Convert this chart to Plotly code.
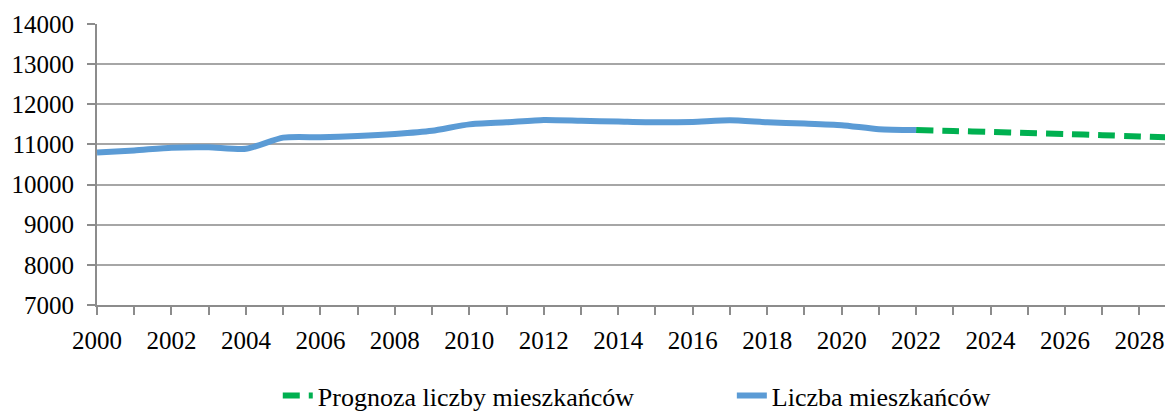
import plotly.graph_objects as go

years_hist = list(range(2000, 2023))
pop_hist = [10800, 10850, 10920, 10930, 10890, 11170, 11180, 11210, 11260, 11340,
            11500, 11550, 11610, 11590, 11570, 11550, 11560, 11600, 11550, 11520,
            11480, 11380, 11360]

years_fc = list(range(2022, 2031))
pop_fc = [11360, 11335, 11310, 11285, 11260, 11230, 11200, 11170, 11140]

FAM = "Times New Roman, Liberation Serif, Tinos, DejaVu Serif, serif"
font = dict(family=FAM, size=25, color="#000000")
lfont = dict(family=FAM, size=26, color="#000000")

fig = go.Figure()
fig.add_trace(go.Scatter(
    x=years_fc, y=pop_fc, mode="lines", name="Prognoza liczby mieszkańców",
    line=dict(color="#00b050", width=6, dash="17px,9px", shape="spline", smoothing=0.6),
    legend="legend",
))
fig.add_trace(go.Scatter(
    x=years_hist, y=pop_hist, mode="lines", name="Liczba mieszkańców",
    line=dict(color="#5b9bd5", width=6, shape="spline", smoothing=0.6),
    legend="legend2",
))

# the page body has an 8px margin, so the figure is offset by (8, 8)
fig.update_layout(
    width=1165, height=404,
    margin=dict(l=89, r=0, t=16, b=107, autoexpand=False),
    paper_bgcolor="white", plot_bgcolor="white",
    font=font,
    showlegend=True,
    legend=dict(orientation="h", x=0.168, xanchor="left", y=-0.322, yanchor="middle",
                font=lfont, bgcolor="rgba(0,0,0,0)"),
    legend2=dict(orientation="h", x=0.59, xanchor="left", y=-0.322, yanchor="middle",
                 font=lfont, bgcolor="rgba(0,0,0,0)"),
    xaxis=dict(range=[2000, 2028.9], tickmode="linear", tick0=2000, dtick=2,
               tickformat="d", ticklabelstandoff=4,
               showgrid=False, showline=True, linecolor="#8c8c8c", linewidth=2,
               ticks="outside", ticklen=8, tickcolor="#8c8c8c", tickwidth=2,
               minor=dict(dtick=1, ticks="outside", ticklen=8, tickcolor="#8c8c8c", tickwidth=2, showgrid=False),
               zeroline=False, tickfont=font),
    yaxis=dict(range=[7000, 14000], tickmode="linear", tick0=7000, dtick=1000,
               tickformat="d", ticklabelstandoff=8,
               showgrid=True, gridcolor="#a6a6a6", gridwidth=2,
               showline=True, linecolor="#8c8c8c", linewidth=2,
               ticks="outside", ticklen=8, tickcolor="#8c8c8c", tickwidth=2,
               zeroline=False, tickfont=font),
)

fig.write_html("out.html")
